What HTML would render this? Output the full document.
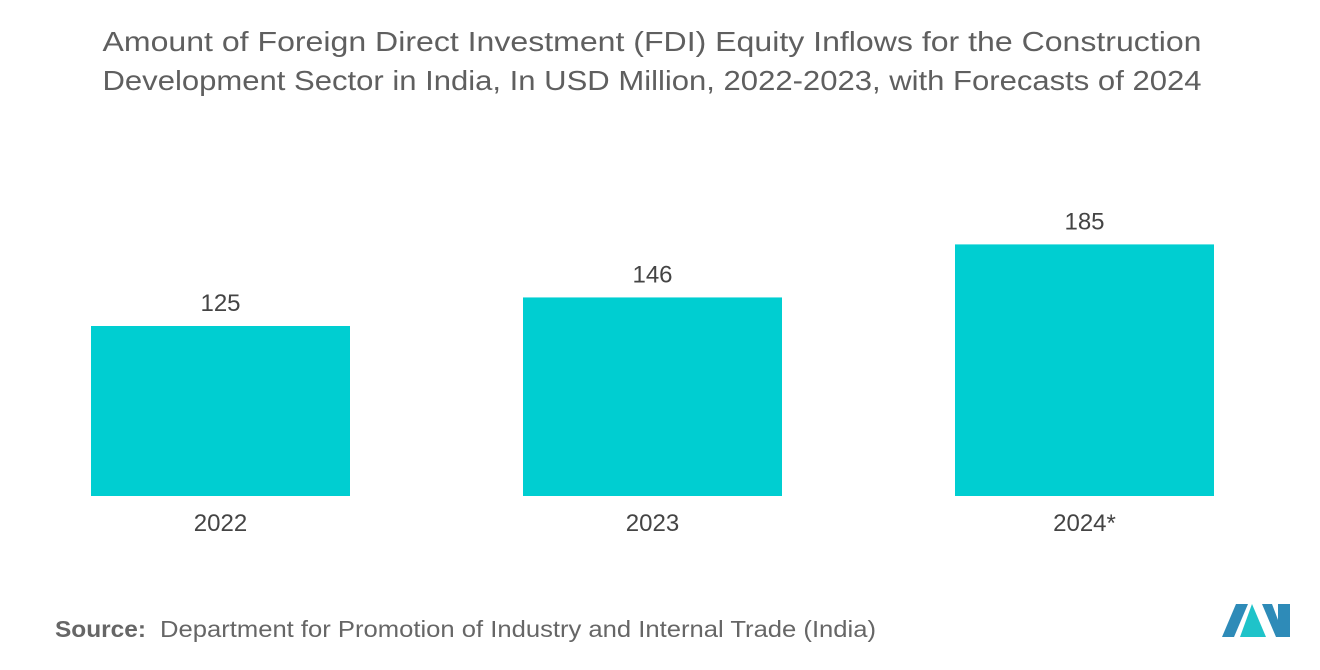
<!DOCTYPE html>
<html><head><meta charset="utf-8"><style>
body{margin:0;background:#fff;font-family:"Liberation Sans",sans-serif;}
</style></head><body>
<svg width="1320" height="665" xmlns="http://www.w3.org/2000/svg">
<text x="652" y="51" text-anchor="middle" font-size="28" fill="#5f5f5f" textLength="1099" lengthAdjust="spacingAndGlyphs">Amount of Foreign Direct Investment (FDI) Equity Inflows for the Construction</text>
<text x="652" y="90" text-anchor="middle" font-size="28" fill="#5f5f5f" textLength="1099" lengthAdjust="spacingAndGlyphs">Development Sector in India, In USD Million, 2022-2023, with Forecasts of 2024</text>
<g id="bars"></g>
<text x="55" y="637" font-size="23" fill="#666" font-weight="bold" textLength="91" lengthAdjust="spacingAndGlyphs">Source:</text>
<text x="160" y="637" font-size="23" fill="#666" textLength="716" lengthAdjust="spacingAndGlyphs">Department for Promotion of Industry and Internal Trade (India)</text>
<g>
<polygon points="1222,637 1236,604 1248,604 1234,637" fill="#2e8bb8"/>
<polygon points="1240,637 1252,604 1266,637" fill="#1fc3c9"/>
<polygon points="1262,604 1276,637 1290,637 1290,604 1278,604 1278,620 1272,604" fill="#2e8bb8"/>
</g>
</svg>
<script>
const categories=["2022","2023","2024*"];
const values=[125,146,185];
const valueLabels=["125","146","185"];
const g=document.getElementById('bars');
const NS='http://www.w3.org/2000/svg';
const base=496, scale=1.36, barW=259, x0=91, step=432;
function y(v){return base-v*scale;}
categories.forEach((c,i)=>{
  const x=x0+i*step;
  const r=document.createElementNS(NS,'rect');
  r.setAttribute('x',x);r.setAttribute('y',y(values[i]));
  r.setAttribute('width',barW);r.setAttribute('height',base-y(values[i]));
  r.setAttribute('fill','#00ced1');
  
  
  g.appendChild(r);
  const t=document.createElementNS(NS,'text');
  t.setAttribute('x',x+barW/2);t.setAttribute('y',y(values[i])-15);
  t.setAttribute('text-anchor','middle');t.setAttribute('font-size','24');t.setAttribute('fill','#444');
  t.textContent=valueLabels[i];
  
  
  g.appendChild(t);
  const l=document.createElementNS(NS,'text');
  l.setAttribute('x',x+barW/2);l.setAttribute('y',531);
  l.setAttribute('text-anchor','middle');l.setAttribute('font-size','24');l.setAttribute('fill','#444');
  l.textContent=c;
  
  
  g.appendChild(l);
});
</script>
</body></html>
